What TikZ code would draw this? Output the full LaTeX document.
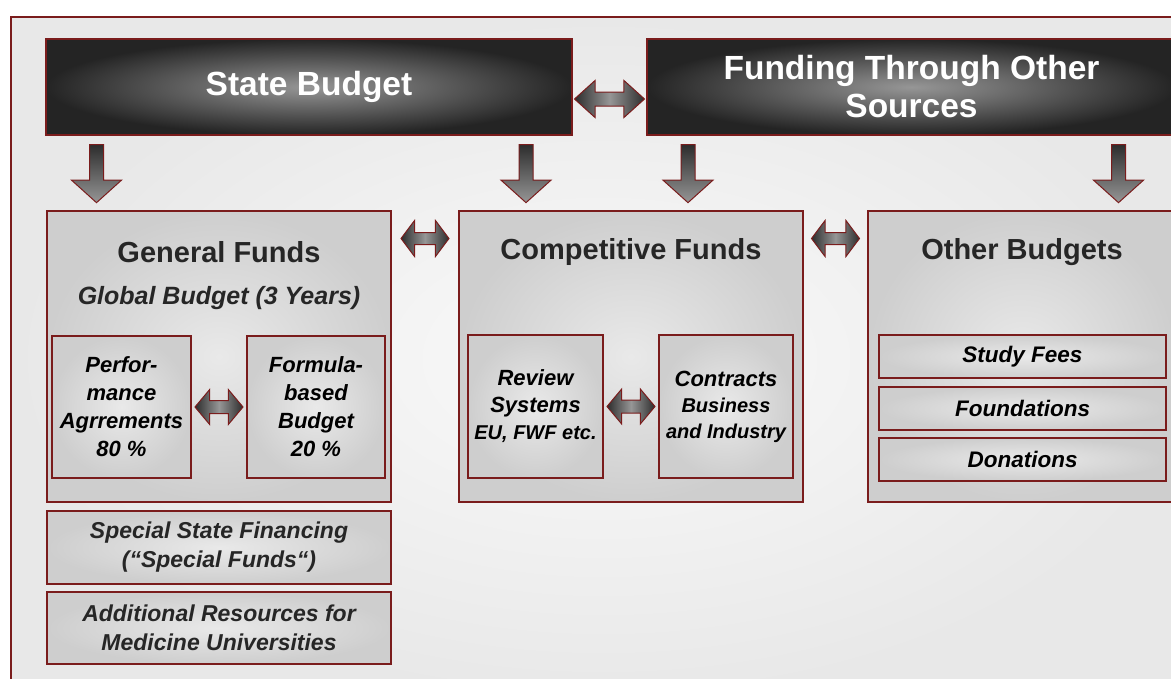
\documentclass[tikz,border=0pt]{standalone}
\usepackage{fontspec}
\setmainfont{Liberation Sans}
\usetikzlibrary{shapes.arrows,calc}
\definecolor{bord}{RGB}{122,28,28}
\definecolor{bgin}{RGB}{250,250,250}
\definecolor{bgout}{RGB}{232,232,232}
\definecolor{lbin}{RGB}{233,233,233}
\definecolor{lbout}{RGB}{206,206,206}
\definecolor{dbin}{RGB}{150,150,150}
\definecolor{dbout}{RGB}{36,36,36}
\definecolor{arrdark}{RGB}{45,45,45}
\definecolor{arrlight}{RGB}{150,150,150}
\definecolor{headtxt}{RGB}{38,38,38}
\begin{document}
\begin{tikzpicture}[x=1pt,y=-1pt,
  darkbox/.style={draw=bord, line width=1.2pt, inner color=dbin, outer color=dbout,
    inner sep=0pt, outer sep=0pt, text=white, align=center,
    font=\fontsize{33.5}{38}\selectfont\bfseries},
  lightbox/.style={draw=bord, line width=1.2pt, inner color=lbin, outer color=lbout,
    inner sep=0pt, outer sep=0pt},
  innerbox/.style={lightbox, align=center, text=black,
    font=\fontsize{22}{28}\selectfont\bfseries\itshape},
  listbox/.style={lightbox, minimum width=287, minimum height=43, text=black,
    font=\fontsize{22.5}{27}\selectfont\bfseries\itshape},
  extrabox/.style={lightbox, align=center, text=headtxt, minimum width=344,
    font=\fontsize{23}{29}\selectfont\bfseries\itshape},
  heading/.style={text=headtxt, inner sep=0pt, font=\fontsize{29}{34}\selectfont\bfseries},
  downarrow/.style={single arrow, shape border rotate=270, draw=bord, line width=1pt,
    minimum height=58, inner sep=6.5pt, single arrow head extend=18,
    single arrow tip angle=96, top color=arrdark, bottom color=arrlight},
  dblarrow/.style={double arrow, draw=bord, line width=1pt, inner xsep=0pt,
    left color=arrdark, right color=arrdark, middle color=arrlight},
]
\clip (0,0) rectangle (1171,678);
\fill[white] (0,0) rectangle (1171,678);
% background frame
\path[draw=bord, line width=1.2pt, inner color=bgin, outer color=bgout] (11,17) rectangle (1195,700);

% top boxes
\node[darkbox, minimum width=526, minimum height=96] (sb) at (309,87) {State Budget};
\node[darkbox, minimum width=529, minimum height=96] (fs) at (911.5,87) {Funding Through Other\\Sources};

% main boxes
\node[lightbox, minimum width=344, minimum height=291] (gf) at (219,356.5) {};
\node[lightbox, minimum width=344, minimum height=291] (cf) at (631,356.5) {};
\node[lightbox, minimum width=308, minimum height=291] (ob) at (1022,356.5) {};

\node[heading] (gft) at ($(gf.north)+(0,41)$) {General Funds};
\node[heading, font=\fontsize{25}{30}\selectfont\bfseries\itshape] (gbt) at ($(gf.north)+(0,87)$) {Global Budget (3 Years)};
\node[heading] (cft) at ($(cf.north)+(0,41)$) {Competitive Funds};
\node[heading] (obt) at ($(ob.north)+(0,41)$) {Other Budgets};

% inner boxes general funds
\node[innerbox, minimum width=139, minimum height=142] (pa) at (121.5,407) {Perfor-\\mance\\Agrrements\\80 \%};
\node[innerbox, minimum width=138, minimum height=142] (fb) at (316,407) {Formula-\\based\\Budget\\20 \%};

% inner boxes competitive funds
\node[innerbox, minimum width=135, minimum height=143, font=\fontsize{22}{27}\selectfont\bfseries\itshape] (rs) at (535.5,406.5)
  {Review\\Systems\\{\fontsize{20}{27}\selectfont EU, FWF etc.}};
\node[innerbox, minimum width=134, minimum height=143, font=\fontsize{22}{26}\selectfont\bfseries\itshape] (ct) at (726,406.5)
  {Contracts\\{\fontsize{20}{25}\selectfont Business}\\{\fontsize{20}{25}\selectfont and Industry}};

% other budgets list
\node[listbox] (sf) at (1022.5,356.5) {Study Fees};
\node[listbox] (fo) at (1022.5,408.5) {Foundations};
\node[listbox] (dn) at (1022.5,459.5) {Donations};

% extra boxes
\node[extrabox, minimum height=73] (ss) at (219,547.5) {Special State Financing\\(“Special Funds“)};
\node[extrabox, minimum height=72] (ar) at (219,628) {Additional Resources for\\Medicine Universities};

% down arrows
\node[downarrow] (d1) at (96.5,170.5) {};
\node[downarrow] (d2) at (526,170.5) {};
\node[downarrow] (d3) at (688,170.5) {};
\node[downarrow] (d4) at (1118.5,170.5) {};

% double arrows
\node[dblarrow, minimum height=70, inner ysep=6.5pt, double arrow head extend=11.5, double arrow tip angle=84]
  (a0) at ($(sb.east)!0.5!(fs.west)+(0,12)$) {};
\node[dblarrow, minimum height=48, inner ysep=5.5pt, double arrow head extend=12, double arrow tip angle=106]
  (a1) at ($(gf.north east)!0.5!(cf.north west)+(0,27.5)$) {};
\node[dblarrow, minimum height=48, inner ysep=5.5pt, double arrow head extend=12, double arrow tip angle=106]
  (a2) at ($(cf.north east)!0.5!(ob.north west)+(0,27.5)$) {};
\node[dblarrow, minimum height=48, inner ysep=6pt, double arrow head extend=11, double arrow tip angle=100]
  (a3) at ($(pa.east)!0.5!(fb.west)$) {};
\node[dblarrow, minimum height=48, inner ysep=6pt, double arrow head extend=11, double arrow tip angle=100]
  (a4) at ($(rs.east)!0.5!(ct.west)$) {};
\end{tikzpicture}
\end{document}
